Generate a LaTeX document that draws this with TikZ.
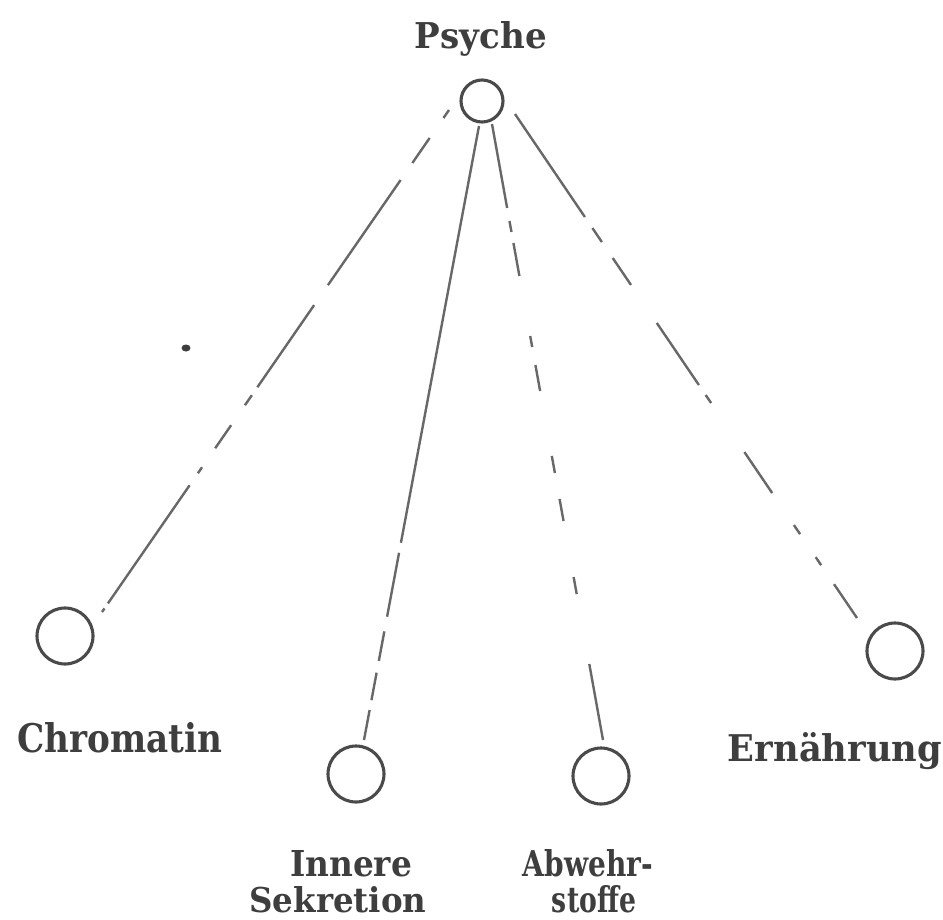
\documentclass[tikz,border=0pt]{standalone}
\usepackage{fontspec}
\usepackage{graphicx}
\setmainfont{DejaVu Serif}
% label text stretched to a given width and cap height
\newcommand\fitlabel[3]{\resizebox{#1pt}{#2pt}{\bfseries #3}}
\definecolor{inkcol}{HTML}{3E3E3E}
\definecolor{ringcol}{HTML}{4A4A4A}
\definecolor{linkcol}{HTML}{686868}
\begin{document}
\begin{tikzpicture}[x=1pt,y=-1pt,
  ring/.style={circle, draw=ringcol, line width=3.1pt, inner sep=0pt, minimum size=56pt},
  smallring/.style={ring, minimum size=42pt},
  link/.style={draw=linkcol, line width=2.4pt, line cap=butt},
  lbl/.style={anchor=base, inner sep=0pt, text=inkcol}]
  \useasboundingbox[fill=white] (0,0) rectangle (943,919);

  % circles
  \node[smallring] (psy) at (482,101) {};
  \node[ring] (chr) at (65,636) {};
  \node[ring] (inn) at (356,774) {};
  \node[ring] (abw) at (601,776) {};
  \node[ring] (ern) at (895,651) {};

  % labels
  \node[lbl] (tpsy) at (481,48) {\fitlabel{132}{27}{Psyche}};
  \node[lbl] (tchr) at (120,752) {\fitlabel{205}{30}{Chromatin}};
  \node[lbl] (tern) at (835,761) {\fitlabel{214}{29}{Ernährung}};
  \node[lbl] (tinn1) at (351,876) {\fitlabel{122}{26}{Innere}};
  \node[lbl] (tinn2) at (338,912) {\fitlabel{177}{26}{Sekretion}};
  \node[lbl] (tabw1) at (588,876) {\fitlabel{130}{27}{Abwehr-}};
  \node[lbl] (tabw2) at (594,912) {\fitlabel{84}{27}{stoffe}};

  % connectors, with their worn-out broken strokes
  \draw[link, dash pattern=on 9.7pt off 24.3pt on 30.4pt off 20.7pt on 127.8pt off 24.3pt
        on 99.8pt off 9.7pt on 12.2pt off 24.3pt on 28pt off 23.1pt on 7.3pt off 14.6pt
        on 143.6pt off 6.1pt on 4.9pt off 50pt]
    ([shift={(-33,9)}]psy.center) -- ([shift={(37,-24)}]chr.center);
  \draw[link, dash pattern=on 424pt off 10.2pt on 65pt off 15pt on 30pt off 12pt on 28pt
        off 10pt on 40pt off 50pt]
    ([shift={(-3,25)}]psy.center) -- ([shift={(8,-34)}]inn.center);
  \draw[link, dash pattern=on 85.3pt off 13.2pt on 11.2pt off 11.2pt on 33.5pt off 61pt
        on 11.2pt off 18.3pt on 26.4pt off 66pt on 17.3pt off 26.4pt on 22.4pt off 56.9pt
        on 17.3pt off 71.1pt on 80pt off 50pt]
    ([shift={(10,23)}]psy.center) -- ([shift={(2,-36)}]abw.center);
  \draw[link, dash pattern=on 124.5pt off 13.3pt on 16.9pt off 19.3pt on 32.6pt off 45.9pt
        on 75pt off 12.1pt on 9.7pt off 59.2pt on 49.6pt off 38.7pt on 10.9pt off 27.8pt
        on 9.7pt off 23pt on 45pt off 50pt]
    ([shift={(33,13)}]psy.center) -- ([shift={(-38,-33)}]ern.center);

  % ink speck
  \fill[inkcol] (186,348) ellipse [x radius=4.5pt, y radius=3.5pt];
\end{tikzpicture}
\end{document}
